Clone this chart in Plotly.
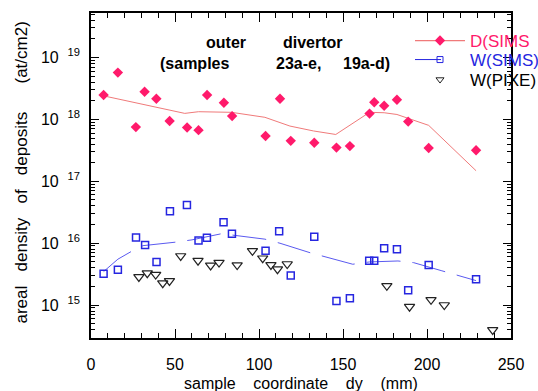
import plotly.graph_objects as go

# ---------------- data ----------------
d_sims_x = [7.5, 16.0, 26.7, 31.9, 38.9, 46.8, 57.2, 64.0, 69.1, 79.1, 84.0, 103.9,
            112.5, 118.9, 132.9, 146.1, 154.1, 165.8, 168.6, 174.5, 182.1, 188.8, 201.0, 229.2]
d_sims_y = [2.48e18, 5.7e18, 7.5e17, 2.8e18, 2.16e18, 9.4e17, 7.4e17, 6.7e17, 2.48e18, 1.86e18, 1.13e18, 5.4e17,
            2.16e18, 4.5e17, 4.2e17, 3.5e17, 3.7e17, 1.24e18, 1.89e18, 1.66e18, 2.08e18, 9.2e17, 3.45e17, 3.17e17]

d_fit_x = [7.5, 55.8, 64.0, 83.6, 103.5, 118.4, 132.4, 145.7, 165.8, 174.5, 182.1, 201.0, 229.2]
d_fit_y = [2.4e18, 1.25e18, 1.33e18, 1.3e18, 1.08e18, 7.8e17, 6.5e17, 5.7e17, 1.30e18, 1.28e18, 1.2e18, 8.0e17, 1.48e17]

w_sims_x = [7.5, 16.0, 26.8, 32.2, 39.0, 47.0, 57.1, 64.0, 69.0, 78.9, 83.9, 103.9,
            112.0, 118.9, 132.9, 146.1, 154.1, 165.6, 168.6, 174.5, 182.1, 188.8, 201.0, 229.2]
w_sims_y = [3.2e15, 3.7e15, 1.23e16, 9.3e15, 4.97e15, 3.27e16, 4.14e16, 1.10e16, 1.22e16, 2.18e16, 1.42e16, 7.5e15,
            1.56e16, 2.99e15, 1.27e16, 1.16e15, 1.29e15, 5.2e15, 5.2e15, 8.3e15, 8.0e15, 1.73e15, 4.45e15, 2.61e15]

w_fit_x = [7.5, 16.0, 24.6, 30.9, 50.8, 60.1, 77.7, 103.5, 112.5, 130.4, 155.8, 165.8, 182.7, 192.0, 208.4, 229.2]
w_fit_y = [3.47e15, 5.5e15, 7.5e15, 9.1e15, 1.04e16, 1.13e16, 1.42e16, 1.16e16, 9.96e15, 7.0e15, 4.56e15,
           4.97e15, 5.15e15, 4.84e15, 3.6e15, 2.48e15]

w_pixe_x = [28.5, 33.5, 38.5, 42.7, 46.7, 53.4, 63.7, 71.2, 76.2, 87.0, 96.1, 102.2, 107.1, 111.0, 116.8,
            176.1, 189.6, 202.4, 210.3, 239.1]
w_pixe_y = [2.84e15, 3.27e15, 3.10e15, 2.25e15, 2.45e15, 6.2e15, 5.2e15, 4.36e15, 4.84e15, 4.42e15, 7.5e15, 5.7e15,
            4.45e15, 3.79e15, 4.6e15, 2.04e15, 9.4e14, 1.21e15, 1.0e15, 3.96e14]

x_tickvals = [0, 50, 100, 150, 200, 250]
y_tickvals = [1e15, 1e16, 1e17, 1e18, 1e19]
y_exponents = ["15", "16", "17", "18", "19"]

legend_names = ["D(SIMS", "W(SIMS)", "W(PIXE)"]
title_words = ["outer", "divertor", "(samples", "23a-e,", "19a-d)"]

# ---------------- layout helpers ----------------
W, H = 538, 391
L, R, T, B = 91, 27, 13, 53
PW, PH = W - L - R, H - T - B
FONT = "Liberation Sans, Arial, Helvetica, sans-serif"
NB = "\u00a0"


def px(x):
    return (x - L) / PW


def py(y):
    return (H - B - y) / PH


PINK = "#ff1a6b"
SALMON = "#f07a7a"
BLUE = "#2626e0"
LBLUE = "#5a5af0"
DARK = "#222222"

y_ticktext = ["10" + NB * 2 + "<sup>%s</sup>" % e for e in y_exponents]

fig = go.Figure()

# D(SIMS)
fig.add_trace(go.Scatter(x=d_fit_x, y=d_fit_y, mode="lines", line=dict(color=SALMON, width=1),
                         showlegend=False, hoverinfo="skip"))
fig.add_trace(go.Scatter(x=d_sims_x, y=d_sims_y, mode="markers",
                         marker=dict(symbol="diamond", size=8, color=PINK, line=dict(width=0)),
                         showlegend=False))
# W(SIMS)
fig.add_trace(go.Scatter(x=w_fit_x, y=w_fit_y, mode="lines", line=dict(color=LBLUE, width=1, dash="34px,12px"),
                         showlegend=False, hoverinfo="skip"))
fig.add_trace(go.Scatter(x=w_sims_x, y=w_sims_y, mode="markers",
                         marker=dict(symbol="square-open", size=7, color=BLUE, line=dict(width=1.5, color=BLUE)),
                         showlegend=False))
# W(PIXE)
fig.add_trace(go.Scatter(x=w_pixe_x, y=w_pixe_y, mode="markers",
                         marker=dict(symbol="triangle-down-open", size=9, color=DARK, line=dict(width=1.2, color=DARK)),
                         showlegend=False))

# legend-only entries
fig.add_trace(go.Scatter(x=[None], y=[None], mode="lines+markers", name=legend_names[0],
                         line=dict(color=SALMON, width=1.2),
                         marker=dict(symbol="diamond", size=8, color=PINK), legend="legend"))
fig.add_trace(go.Scatter(x=[None], y=[None], mode="lines+markers", name=legend_names[1],
                         line=dict(color=BLUE, width=1, dash="26px,24px"),
                         marker=dict(symbol="square-open", size=6, color=BLUE, line=dict(width=1, color=BLUE)),
                         legend="legend2"))
fig.add_trace(go.Scatter(x=[None], y=[None], mode="markers", name=legend_names[2],
                         marker=dict(symbol="triangle-down-open", size=7, color=DARK, line=dict(width=1, color=DARK)),
                         legend="legend3"))

leg_common = dict(xanchor="left", yanchor="middle", bgcolor="rgba(0,0,0,0)", borderwidth=0,
                  itemwidth=50, itemsizing="trace")
lx = px(410)
fig.update_layout(
    legend=dict(x=lx, y=py(41), font=dict(family=FONT, size=17, color=PINK), **leg_common),
    legend2=dict(x=lx, y=py(60), font=dict(family=FONT, size=17, color=BLUE), **leg_common),
    legend3=dict(x=lx, y=py(80), font=dict(family=FONT, size=17, color="black"), **leg_common),
)

axis_common = dict(showline=True, linecolor="black", linewidth=1.5, mirror="ticks", ticks="inside",
                   tickcolor="black", tickwidth=1.2, showgrid=False, zeroline=False,
                   tickfont=dict(family=FONT, size=16, color="black"))

fig.update_xaxes(range=[0, 250], tickmode="array", tickvals=x_tickvals, ticklen=9,
                 minor=dict(dtick=10, ticks="inside", ticklen=5, tickcolor="black", tickwidth=1.2, showgrid=False),
                 ticklabelstandoff=11, **axis_common)
fig.update_yaxes(type="log", range=[14.467, 19.719], tickmode="array", tickvals=y_tickvals, ticktext=y_ticktext,
                 ticklen=8,
                 minor=dict(dtick="D1", ticks="inside", ticklen=4, tickcolor="black", tickwidth=1.2, showgrid=False),
                 ticklabelstandoff=6, **axis_common)

annotations = []
tb = dict(family=FONT, size=16, color="black", weight="bold")
title_pos = [(225.5, 42.7), (313, 42.7), (194, 63.3), (298, 63.3), (366.7, 63.3)]
for word, (xx, yy) in zip(title_words, title_pos):
    annotations.append(dict(text="<b>%s</b>" % word, x=px(xx), y=py(yy), xref="paper", yref="paper",
                            xanchor="center", yanchor="middle", showarrow=False, font=tb))

ytitle = "areal" + NB * 3 + "density" + NB * 3 + "of" + NB * 3 + "deposits" + NB * 6 + "(at/cm2)"
annotations.append(dict(text=ytitle, x=px(21), y=py(172.5), xref="paper", yref="paper", textangle=-90,
                        xanchor="center", yanchor="middle", showarrow=False,
                        font=dict(family=FONT, size=17, color="black")))
xtitle = "sample" + NB * 4 + "coordinate" + NB * 4 + "dy" + NB * 4 + "(mm)"
annotations.append(dict(text=xtitle, x=px(300.5), y=py(383), xref="paper", yref="paper",
                        xanchor="center", yanchor="middle", showarrow=False,
                        font=dict(family=FONT, size=16, color="black")))

fig.update_layout(
    width=W, height=H, autosize=False,
    margin=dict(l=L, r=R, t=T, b=B, pad=0, autoexpand=False),
    paper_bgcolor="white", plot_bgcolor="white",
    font=dict(family=FONT, size=16, color="black"),
    annotations=annotations,
)

fig.write_html("out.html", config={"displayModeBar": False},
               post_script="document.body.style.margin='0';document.body.style.overflow='hidden';")
